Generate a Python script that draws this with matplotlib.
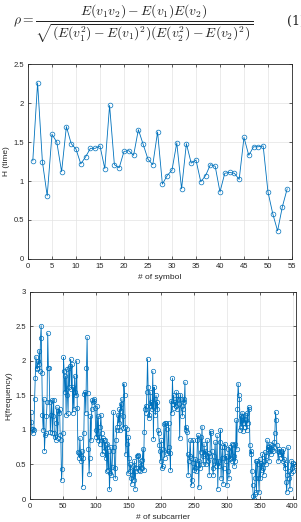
import matplotlib
matplotlib.use("Agg")
import matplotlib.pyplot as plt
import numpy as np

plt.rcParams['font.family'] = ['Liberation Sans', 'DejaVu Sans']
plt.rcParams['mathtext.fontset'] = 'cm'

# Data
symbol_idx = list(range(1, 55))
h_time = [1.26, 2.26, 1.25, 0.81, 1.60, 1.50, 1.12, 1.70, 1.48, 1.41,
          1.22, 1.31, 1.42, 1.42, 1.45, 1.16, 1.97, 1.21, 1.17, 1.38,
          1.39, 1.33, 1.66, 1.47, 1.28, 1.21, 1.63, 0.96, 1.07, 1.14,
          1.49, 0.90, 1.48, 1.23, 1.27, 0.99, 1.07, 1.21, 1.19, 0.86,
          1.10, 1.11, 1.10, 1.02, 1.56, 1.33, 1.44, 1.44, 1.45, 0.86,
          0.58, 0.36, 0.67, 0.90]

h_freq = [1.26, 1.12, 1.02, 0.95, 1.02, 1.00, 1.45, 1.75, 2.06, 1.90,
          1.88, 2.00, 1.95, 2.15, 1.85, 2.33, 2.51, 1.83, 1.22, 1.00,
          1.45, 0.70, 0.92, 0.95, 1.20, 1.40, 2.40, 1.90, 1.90, 1.40,
          0.97, 1.22, 1.43, 0.96, 1.20, 1.44, 0.95, 0.90, 0.86, 1.10,
          1.33, 0.88, 1.28, 1.25, 1.30, 0.92, 0.86, 0.27, 0.44, 0.95,
          2.05, 1.85, 1.55, 1.78, 1.22, 1.88, 1.50, 1.25, 1.90, 1.62,
          1.93, 2.02, 1.60, 1.95, 1.25, 1.62, 1.30, 1.78, 1.55, 1.50,
          2.00, 1.32, 0.68, 0.66, 0.60, 0.88, 0.62, 0.55, 0.70, 0.18,
          0.60, 0.95, 1.52, 1.55, 1.25, 1.89, 2.34, 1.53, 0.72, 0.36,
          0.60, 1.20, 0.85, 1.30, 1.44, 1.40, 1.42, 1.45, 1.32, 1.00,
          0.90, 1.35, 0.85, 1.20, 0.90, 0.80, 1.05, 1.22, 0.95, 0.65,
          0.88, 0.86, 0.70, 0.85, 0.60, 0.78, 0.40, 0.80, 0.42, 0.70,
          0.14, 0.38, 0.75, 0.35, 0.46, 0.70, 1.26, 0.75, 0.45, 0.30,
          0.85, 1.00, 1.05, 1.22, 1.10, 1.30, 1.00, 1.38, 1.28, 1.45,
          1.20, 1.03, 1.67, 1.50, 1.05, 0.65, 1.02, 0.80, 0.37, 0.90,
          0.60, 0.40, 0.50, 0.30, 0.22, 0.35, 0.48, 0.28, 0.55, 0.15,
          0.40, 0.45, 0.62, 0.64, 0.63, 0.42, 0.48, 0.40, 0.55, 0.45,
          0.57, 0.73, 0.42, 0.97, 1.30, 1.35, 1.25, 1.55, 2.03, 1.62,
          1.18, 1.22, 1.55, 1.35, 1.40, 1.30, 1.85, 0.87, 1.62, 1.45,
          1.22, 1.50, 1.30, 1.40, 1.00, 0.95, 0.78, 0.70, 0.55, 0.85,
          0.45, 0.48, 0.72, 1.08, 0.60, 1.10, 1.10, 1.02, 0.66, 0.70,
          1.10, 0.75, 0.66, 0.42, 1.42, 1.25, 1.75, 1.38, 1.50, 1.32,
          1.40, 1.35, 1.55, 1.30, 1.45, 1.50, 1.38, 0.88, 1.50, 1.45,
          1.35, 1.20, 1.30, 1.45, 1.40, 1.69, 1.00, 1.05, 0.97, 0.65,
          0.35, 0.55, 0.62, 0.85, 0.60, 0.20, 0.28, 0.52, 0.85, 0.42,
          0.45, 0.58, 0.40, 0.50, 0.85, 0.92, 0.17, 0.55, 0.45, 0.90,
          0.68, 1.05, 0.62, 0.50, 0.80, 0.65, 0.70, 0.50, 0.62, 0.85,
          0.55, 0.66, 0.35, 0.62, 0.98, 0.95, 0.70, 0.45, 0.35, 0.55,
          0.62, 0.82, 0.48, 0.55, 0.92, 0.15, 0.55, 0.48, 0.82, 1.00,
          0.30, 0.60, 0.75, 0.22, 0.45, 0.75, 0.80, 0.55, 0.62, 0.20,
          0.40, 0.72, 0.30, 0.75, 0.58, 0.60, 0.80, 0.55, 0.78, 0.62,
          0.48, 0.80, 0.55, 1.14, 0.72, 1.30, 1.67, 1.50, 1.45, 1.00,
          1.20, 1.05, 1.25, 0.98, 1.20, 1.10, 1.22, 1.05, 1.15, 1.00,
          1.25, 1.10, 1.33, 1.30, 0.78, 0.65, 0.70, 0.40, 0.20, 0.05,
          0.00, 0.08, 0.30, 0.55, 0.10, 0.55, 0.50, 0.30, 0.10, 0.58,
          0.30, 0.52, 0.42, 0.65, 0.45, 0.35, 0.55, 0.68, 0.50, 0.62,
          0.85, 0.72, 0.75, 0.55, 0.80, 0.70, 0.65, 0.78, 0.72, 0.70,
          0.75, 0.82, 0.95, 1.26, 1.15, 0.78, 0.70, 0.55, 0.68, 0.72,
          0.65, 0.70, 0.60, 0.68, 0.55, 0.72, 0.58, 0.45, 0.50, 0.25,
          0.10, 0.35, 0.75, 0.40, 0.30, 0.15, 0.38, 0.55, 0.45, 0.40,
          0.52, 0.50, 0.48]
subcarrier_idx = list(range(1, len(h_freq) + 1))

line_col = '#0072BD'
axis_col = '#262626'

fig = plt.figure(figsize=(3.01, 5.22), dpi=100)

# equation at the top
fig.text(0.442, 0.955,
         r'$\rho = \dfrac{E(v_1 v_2) - E(v_1)E(v_2)}'
         r'{\sqrt{(E(v_1^2) - E(v_1)^2)(E(v_2^2) - E(v_2)^2)}}$',
         ha='center', va='center', fontsize=9.8, color='#222222')
fig.text(0.955, 0.958, '(1)', ha='left', va='center', fontsize=9,
         family='DejaVu Serif', color='#222222')


def style_axes(ax):
    ax.grid(True, color='#e3e3e3', linewidth=0.5)
    ax.set_axisbelow(True)
    for s in ax.spines.values():
        s.set_color(axis_col)
        s.set_linewidth(0.6)
    ax.tick_params(direction='in', length=2.5, width=0.5, colors=axis_col,
                   labelsize=5.5, top=True, right=True, pad=3)


ax1 = fig.add_axes([0.093, 0.504, 0.877, 0.373])
ax1.plot(symbol_idx, h_time, '-o', color=line_col, linewidth=0.6,
         markersize=3.4, markerfacecolor='none', markeredgewidth=0.5)
ax1.set_xlim(0, 55)
ax1.set_ylim(0, 2.5)
ax1.set_xticks(np.arange(0, 56, 5))
ax1.set_yticks([0, 0.5, 1, 1.5, 2, 2.5])
ax1.set_yticklabels(['0', '0.5', '1', '1.5', '2', '2.5'])
ax1.set_xlabel('# of symbol', fontsize=6, color=axis_col, labelpad=3)
ax1.set_ylabel('H (time)', fontsize=6, color=axis_col, labelpad=2)
style_axes(ax1)

ax2 = fig.add_axes([0.0997, 0.044, 0.8833, 0.397])
ax2.plot(subcarrier_idx, h_freq, '-o', color=line_col, linewidth=0.6,
         markersize=3.2, markerfacecolor='none', markeredgewidth=0.5)
ax2.set_xlim(0, 405)
ax2.set_ylim(0, 3)
ax2.set_xticks(np.arange(0, 401, 50))
ax2.set_yticks([0, 0.5, 1, 1.5, 2, 2.5, 3])
ax2.set_yticklabels(['0', '0.5', '1', '1.5', '2', '2.5', '3'])
ax2.set_xlabel('# of subcarrier', fontsize=6, color=axis_col, labelpad=3)
ax2.set_ylabel('H(frequency)', fontsize=6, color=axis_col, labelpad=2)
style_axes(ax2)

fig.savefig('out.png', dpi=100)
